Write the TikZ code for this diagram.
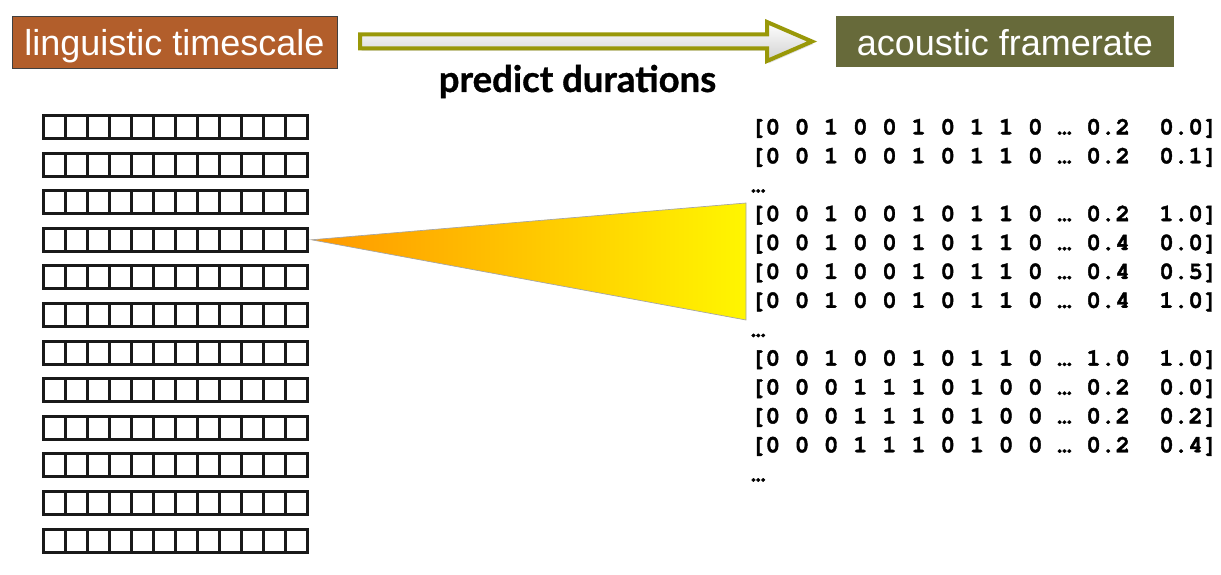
\documentclass[tikz,border=0pt]{standalone}
\usepackage{fontspec}
\setmainfont{Liberation Sans}
\newfontfamily\monofont{texgyrecursor}[Extension=.otf, UprightFont=*-regular, BoldFont=*-bold, BoldFeatures={FakeBold=1.6}]
\newfontfamily\gillfont{Lato}[BoldFeatures={FakeBold=1}]
\usetikzlibrary{calc,shadows}
\definecolor{brownbox}{RGB}{178,94,43}
\definecolor{greenbox}{RGB}{103,106,58}
\definecolor{olivearrow}{RGB}{153,152,8}
\definecolor{triA}{RGB}{255,152,0}
\definecolor{triB}{RGB}{255,246,0}
\begin{document}
\begin{tikzpicture}[x=1pt,y=-1pt,
  labelbox/.style={rectangle, inner sep=0pt, outer sep=0pt, text=white,
    font=\fontsize{36}{40}\selectfont, text height=30pt, text depth=2pt},
  rowbox/.style={rectangle, draw=black!90, line width=3pt, minimum width=264pt,
    minimum height=23pt, inner sep=0pt, outer sep=0pt},
  cellline/.style={draw=black!90, line width=3pt},
  mono/.style={anchor=base west, inner sep=0pt, outer sep=0pt,
    font=\monofont\bfseries\fontsize{24.3}{29}\selectfont},
  arrowline/.style={draw=olivearrow, line width=4pt, line join=miter,
    top color=white, bottom color=black!18,
    drop shadow={opacity=0.25, shadow xshift=1.5pt, shadow yshift=-2.5pt}},
]
\useasboundingbox (0,0) rectangle (1221,575);

% title boxes
\node[labelbox, fill=brownbox, draw=black!75, line width=0.6pt,
  minimum width=325pt, minimum height=52pt,
  drop shadow={opacity=0.3, shadow xshift=1pt, shadow yshift=-1.5pt}]
  (ling) at (174.5,42) {linguistic timescale};
\node[labelbox, fill=greenbox, minimum width=338pt, minimum height=51pt]
  (acou) at (1005,41.5) {acoustic framerate};

% hollow block arrow
\coordinate (aS) at ($(ling.east)+(23,-0.5)$);
\coordinate (aT) at ($(acou.west)+(-24,0)$);
\path[arrowline] ($(aS)+(0,-7)$) -- ($(aT)+(-45,-7)$) -- ($(aT)+(-45,-19.5)$) -- (aT)
  -- ($(aT)+(-45,19.5)$) -- ($(aT)+(-45,7)$) -- ($(aS)+(0,7)$) -- cycle;

\node[anchor=base, inner sep=0pt, font=\gillfont\bfseries\fontsize{36.5}{40}\selectfont]
  (pd) at (577.5,92) {predict durations};

% grid of linguistic feature rows
\foreach \k in {1,...,12}{
  \node[rowbox] (row\k) at (175.5,{127+37.6*(\k-1)}) {};
  \foreach \i in {1,...,11}
    \draw[cellline] ($(row\k.north west)!\i/12!(row\k.north east)$)
      -- ($(row\k.south west)!\i/12!(row\k.south east)$);
}

% gradient wedge
\coordinate (wT) at ($(row4.east)+(4,0)$);
\coordinate (wA) at (746,203);
\coordinate (wB) at (746,320);
\path[left color=triA, right color=triB, draw=black!35, line width=0.7pt]
  (wT) -- (wA) -- (wB) -- cycle;

% acoustic frame vectors
\node[mono] (m1)  at (751,134.4) {[0 0 1 0 0 1 0 1 1 0 … 0.2\ \ 0.0]};
\node[mono] (m2)  at (751,163.3) {[0 0 1 0 0 1 0 1 1 0 … 0.2\ \ 0.1]};
\node[mono] (m3)  at (751,192.2) {…};
\node[mono] (m4)  at (751,221.1) {[0 0 1 0 0 1 0 1 1 0 … 0.2\ \ 1.0]};
\node[mono] (m5)  at (751,250.0) {[0 0 1 0 0 1 0 1 1 0 … 0.4\ \ 0.0]};
\node[mono] (m6)  at (751,278.9) {[0 0 1 0 0 1 0 1 1 0 … 0.4\ \ 0.5]};
\node[mono] (m7)  at (751,307.8) {[0 0 1 0 0 1 0 1 1 0 … 0.4\ \ 1.0]};
\node[mono] (m8)  at (751,336.7) {…};
\node[mono] (m9)  at (751,365.6) {[0 0 1 0 0 1 0 1 1 0 … 1.0\ \ 1.0]};
\node[mono] (m10) at (751,394.5) {[0 0 0 1 1 1 0 1 0 0 … 0.2\ \ 0.0]};
\node[mono] (m11) at (751,423.4) {[0 0 0 1 1 1 0 1 0 0 … 0.2\ \ 0.2]};
\node[mono] (m12) at (751,452.3) {[0 0 0 1 1 1 0 1 0 0 … 0.2\ \ 0.4]};
\node[mono] (m13) at (751,481.2) {…};
\end{tikzpicture}
\end{document}
